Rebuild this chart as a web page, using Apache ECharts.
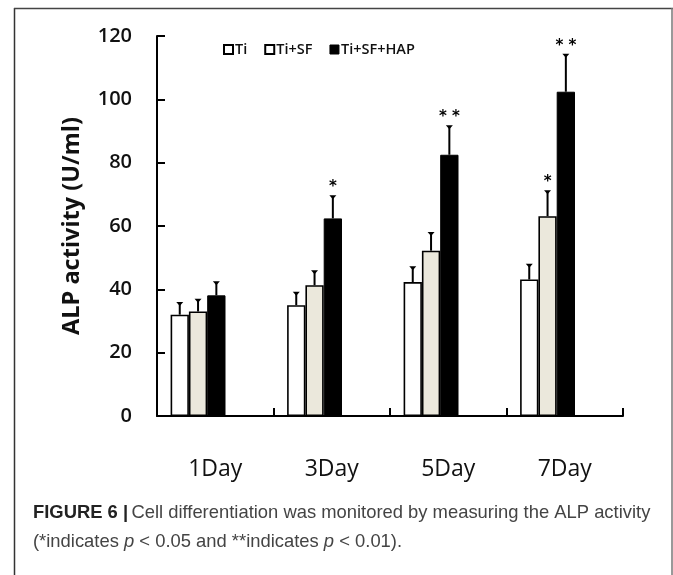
<!DOCTYPE html>
<html>
<head>
<meta charset="utf-8">
<script src="https://cdn.jsdelivr.net/npm/echarts@6/dist/echarts.min.js"></script>
<style>
html,body{margin:0;padding:0;background:#fff;}
#chart{width:673px;height:575px;}
</style>
</head>
<body>
<div id="chart"></div>
<script>
// ---- data ----
const categories = ['1Day', '3Day', '5Day', '7Day'];
const seriesNames = ['Ti', 'Ti+SF', 'Ti+SF+HAP'];
const tiValues  = [32, 35, 42.3, 43.1];
const sfValues  = [33, 41.3, 52.2, 63.1];
const hapValues = [38.1, 62.4, 82.5, 102.4];
const tiErr  = [3.7, 3.9, 4.7, 4.7];
const sfErr  = [3.7, 4.4, 5.6, 7.9];
const hapErr = [4.1, 7.0, 9.0, 11.7];
const tiSig  = ['', '', '', ''];
const sfSig  = ['', '', '', '*'];
const hapSig = ['', '*', '**', '**'];
const yTicks = [0, 20, 40, 60, 80, 100, 120];

// ---- layout constants ----
const BAR_W = 18.3;
const SPACER_W = 34.4;
const TOTAL_W = BAR_W * 3 + SPACER_W;
function barOffset(i) { return -TOTAL_W / 2 + BAR_W * (i + 0.5); }

const chart = echarts.init(document.getElementById('chart'), null, {renderer: 'canvas'});

function errSeries(idx, vals, errs, sigs) {
  return {
    type: 'custom',
    z: 5,
    silent: true,
    data: vals.map((v, i) => [i, v, errs[i], sigs[i]]),
    renderItem: function (params, api) {
      const ci = api.value(0);
      const v = api.value(1);
      const e = api.value(2);
      const sig = sigs[params.dataIndex];
      const base = api.coord([ci, v]);
      const top = api.coord([ci, v + e]);
      const x = base[0] + barOffset(idx);
      const children = [
        {type: 'line', shape: {x1: x, y1: base[1], x2: x, y2: top[1]},
         style: {stroke: '#000', lineWidth: 2}},
        {type: 'polygon', shape: {points: [[x - 3.5, top[1] - 1], [x + 3.5, top[1] - 1], [x, top[1] + 3]]},
         style: {fill: '#000'}}
      ];
      if (sig) {
        children.push({type: 'text', x: x, y: top[1] - 9,
          style: {text: sig.split('').join(' '), fill: '#000', font: 'bold 15px "DejaVu Sans"',
                  align: 'center', verticalAlign: 'middle'}});
      }
      return {type: 'group', children: children};
    }
  };
}

const option = {
  backgroundColor: '#fff',
  animation: false,
  textStyle: {fontFamily: '"Open Sans", sans-serif'},
  grid: {left: 157, right: 50, top: 36, bottom: 159, containLabel: false},
  legend: {
    left: 218, top: 37,
    itemWidth: 9, itemHeight: 9, itemGap: 17,
    icon: 'rect',
    textStyle: {fontSize: 14.5, fontWeight: 600, color: '#111', fontFamily: '"Open Sans", sans-serif', padding: [0, 0, 0, -3]},
    data: [
      {name: 'Ti', itemStyle: {color: '#fff', borderColor: '#000', borderWidth: 2}},
      {name: 'Ti+SF', itemStyle: {color: '#fff', borderColor: '#000', borderWidth: 2}},
      {name: 'Ti+SF+HAP', itemStyle: {color: '#000', borderColor: '#000', borderWidth: 1}}
    ]
  },
  xAxis: {
    type: 'category',
    data: categories,
    boundaryGap: true,
    axisLine: {lineStyle: {color: '#000', width: 2}},
    axisTick: {show: true, inside: true, length: 8, alignWithLabel: false, lineStyle: {color: '#000', width: 2}},
    axisLabel: {fontSize: 23, color: '#111', margin: 42, fontFamily: '"Open Sans", sans-serif'},
    splitLine: {show: false}
  },
  yAxis: {
    type: 'value',
    min: yTicks[0], max: yTicks[yTicks.length - 1], interval: 20,
    name: 'ALP activity (U/ml)',
    nameLocation: 'middle',
    nameRotate: 90,
    nameGap: 73,
    nameTextStyle: {fontSize: 23.5, fontWeight: 'bold', color: '#111', fontFamily: '"Open Sans", sans-serif'},
    axisLine: {show: true, lineStyle: {color: '#000', width: 2}},
    axisTick: {show: true, inside: true, length: 8, lineStyle: {color: '#000', width: 2}},
    axisLabel: {fontSize: 20, fontWeight: 600, color: '#111', margin: 25, fontFamily: '"Open Sans", sans-serif'},
    splitLine: {show: false}
  },
  series: [
    {name: seriesNames[0], type: 'bar', data: tiValues, barWidth: BAR_W, barGap: '0%',
     itemStyle: {color: '#fff', borderColor: '#000', borderWidth: 1.6}},
    {name: seriesNames[1], type: 'bar', data: sfValues, barWidth: BAR_W, barGap: '0%',
     itemStyle: {color: '#ebe8dc', borderColor: '#000', borderWidth: 1.6}},
    {name: seriesNames[2], type: 'bar', data: hapValues, barWidth: BAR_W, barGap: '0%',
     itemStyle: {color: '#000', borderColor: '#000', borderWidth: 1}},
    {name: 'spacer', type: 'bar', data: categories.map(() => '-'), barWidth: SPACER_W, barGap: '0%',
     silent: true, itemStyle: {color: 'transparent'}},
    errSeries(0, tiValues, tiErr, tiSig),
    errSeries(1, sfValues, sfErr, sfSig),
    errSeries(2, hapValues, hapErr, hapSig)
  ],
  graphic: [
    {type: 'line', shape: {x1: 14.5, y1: 8, x2: 14.5, y2: 575}, style: {stroke: '#333', lineWidth: 1.5}},
    {type: 'line', shape: {x1: 14, y1: 8.5, x2: 673, y2: 8.5}, style: {stroke: '#444', lineWidth: 1.5}},
    {type: 'line', shape: {x1: 672, y1: 8, x2: 672, y2: 575}, style: {stroke: '#777', lineWidth: 1.5}},
    {type: 'text', left: 33, top: 504,
     style: {
       text: '{b|FIGURE 6 |} {n|Cell differentiation was monitored by measuring the ALP activity}\n{n|(*indicates }{i|p}{n| < 0.05 and **indicates }{i|p}{n| < 0.01).}',
       rich: {
         b: {fontFamily: '"Liberation Sans", Arial, sans-serif', fontSize: 18.4, fontWeight: 'bold', fill: '#222', lineHeight: 29},
         n: {fontFamily: '"Liberation Sans", Arial, sans-serif', fontSize: 18.4, fill: '#444', lineHeight: 29},
         i: {fontFamily: '"Liberation Sans", Arial, sans-serif', fontSize: 18.4, fontStyle: 'italic', fill: '#444', lineHeight: 29}
       }
     }}
  ]
};
chart.setOption(option);
</script>
</body>
</html>
